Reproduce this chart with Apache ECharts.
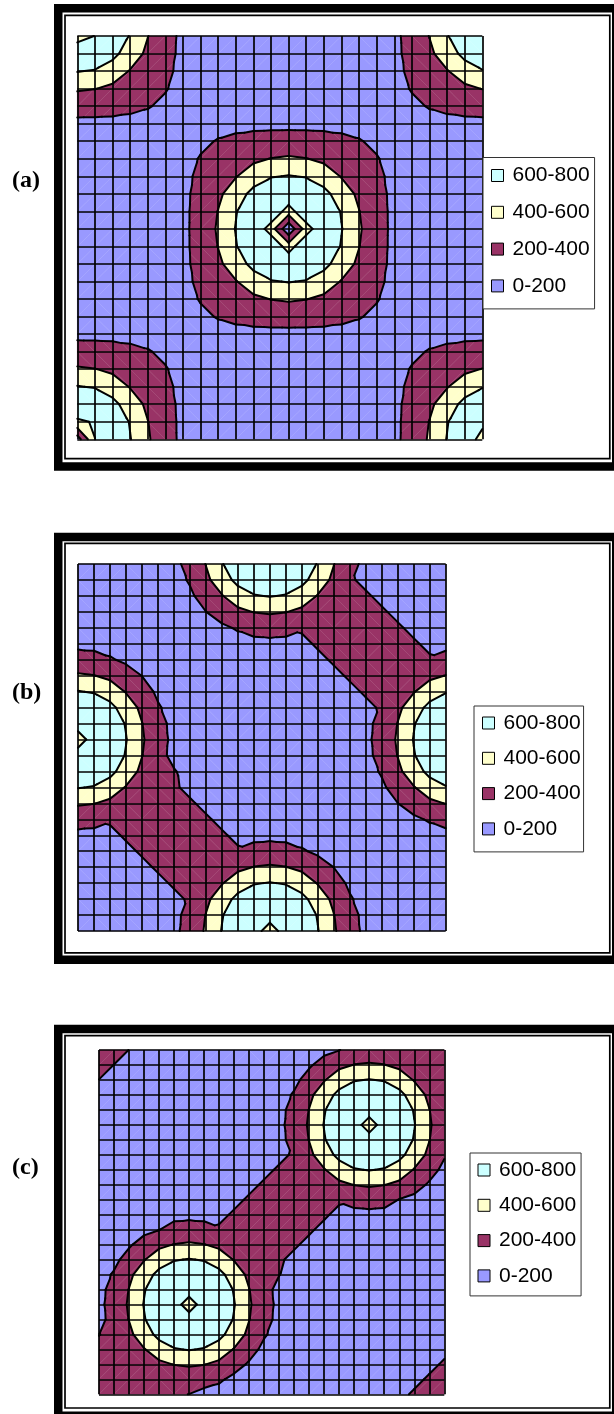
<!DOCTYPE html>
<html>
<head>
<meta charset="utf-8">
<script src="https://cdn.jsdelivr.net/npm/echarts@6.0.0/dist/echarts.min.js"></script>
<style>
  html, body { margin: 0; padding: 0; background: #fff; }
  #chart { width: 614px; height: 1414px; }
</style>
</head>
<body>
<div id="chart"></div>
<script>
// Surface values on a 24 x 24 point lattice, rows listed top to bottom.
const surfaceA = [
  [490,606,785,585,405,285,150,90,66,66,66,66,66,66,66,66,66,90,150,285,405,585,785,650],
  [790,785,660,500,362,275,147,88,66,66,66,66,66,66,66,66,66,88,147,275,362,500,660,785],
  [610,585,500,390,300,250,140,86,66,66,66,66,66,66,66,66,66,86,140,250,300,390,500,585],
  [420,405,362,300,250,215,125,81,66,66,66,66,66,66,66,66,66,81,125,215,250,300,362,405],
  [290,285,275,250,215,155,105,73,81,86,88,90,90,90,88,86,81,73,105,155,215,250,275,285],
  [150,150,147,140,125,105,85,105,125,140,147,150,150,150,147,140,125,105,85,105,125,140,147,150],
  [90,90,88,86,81,73,105,155,215,250,275,285,290,285,275,250,215,155,105,73,81,86,88,90],
  [66,66,66,66,66,81,125,215,250,300,362,405,420,405,362,300,250,215,125,81,66,66,66,66],
  [66,66,66,66,66,86,140,250,300,390,500,585,610,585,500,390,300,250,140,86,66,66,66,66],
  [66,66,66,66,66,88,147,275,362,500,660,785,790,785,660,500,362,275,147,88,66,66,66,66],
  [66,66,66,66,66,90,150,285,405,585,785,800,490,800,785,585,405,285,150,90,66,66,66,66],
  [66,66,66,66,66,90,150,290,420,610,790,490,45,490,790,610,420,290,150,90,66,66,66,66],
  [66,66,66,66,66,90,150,285,405,585,785,800,490,800,785,585,405,285,150,90,66,66,66,66],
  [66,66,66,66,66,88,147,275,362,500,660,785,790,785,660,500,362,275,147,88,66,66,66,66],
  [66,66,66,66,66,86,140,250,300,390,500,585,610,585,500,390,300,250,140,86,66,66,66,66],
  [66,66,66,66,66,81,125,215,250,300,362,405,420,405,362,300,250,215,125,81,66,66,66,66],
  [90,90,88,86,81,73,105,155,215,250,275,285,290,285,275,250,215,155,105,73,81,86,88,90],
  [150,150,147,140,125,105,85,105,125,140,147,150,150,150,147,140,125,105,85,105,125,140,147,150],
  [290,285,275,250,215,155,105,73,81,86,88,90,90,90,88,86,81,73,105,155,215,250,275,285],
  [420,405,362,300,250,215,125,81,66,66,66,66,66,66,66,66,66,81,125,215,250,300,362,405],
  [610,585,500,390,300,250,140,86,66,66,66,66,66,66,66,66,66,86,140,250,300,390,500,585],
  [790,785,660,500,362,275,147,88,66,66,66,66,66,66,66,66,66,88,147,275,362,500,660,785],
  [560,620,785,585,405,285,150,90,66,66,66,66,66,66,66,66,66,90,150,285,405,585,785,680],
  [100,598,790,610,420,290,150,90,66,66,66,66,66,66,66,66,66,90,150,290,420,610,790,490]
];

const surfaceB = [
  [68,68,68,68,72,93,145,270,405,585,745,770,740,770,745,585,405,270,145,100,88,78,72,68],
  [68,68,68,68,68,86,130,220,360,500,660,745,760,745,660,500,360,222,160,125,100,88,78,72],
  [72,68,68,68,68,80,108,165,290,390,500,585,610,585,500,390,315,280,222,160,125,100,88,78],
  [78,72,68,68,68,70,88,125,198,290,360,405,420,405,360,315,330,315,280,222,160,125,100,88],
  [95,93,86,80,70,70,76,93,125,165,220,270,290,270,222,280,315,330,315,280,222,160,125,100],
  [150,145,130,108,88,76,70,76,88,108,130,145,150,145,160,222,280,315,330,315,280,222,160,145],
  [290,270,220,165,125,93,76,70,70,80,86,93,95,100,125,160,222,280,315,330,315,280,222,270],
  [420,405,360,290,198,125,88,70,68,68,68,72,78,88,100,125,160,222,280,315,330,315,360,405],
  [610,585,500,390,290,165,108,80,68,68,68,68,72,78,88,100,125,160,222,280,315,390,500,585],
  [760,745,660,500,360,220,130,86,68,68,68,68,68,72,78,88,100,125,160,222,360,500,660,745],
  [740,770,745,585,405,270,145,93,72,68,68,68,68,68,72,78,88,100,145,270,405,585,745,770],
  [450,740,760,610,420,290,150,95,78,72,68,68,68,68,68,72,78,95,150,290,420,610,760,740],
  [740,770,745,585,405,270,145,100,88,78,72,68,68,68,68,68,72,93,145,270,405,585,745,770],
  [760,745,660,500,360,222,215,125,100,88,78,72,68,68,68,68,68,86,130,220,360,500,660,745],
  [610,585,500,390,315,280,222,160,125,100,88,78,72,68,68,68,68,80,108,165,290,390,500,585],
  [420,405,360,315,330,315,280,222,160,125,100,88,78,72,68,68,68,70,88,125,198,290,360,405],
  [290,270,222,280,315,330,315,280,222,160,125,100,95,93,86,80,70,70,76,93,125,165,220,270],
  [150,145,160,222,280,315,330,315,280,222,160,145,150,145,130,108,88,76,70,76,88,108,130,145],
  [95,100,125,160,222,280,315,330,315,280,222,270,290,270,220,165,125,93,76,70,70,80,86,93],
  [78,88,100,125,160,222,280,315,330,315,360,405,420,405,360,290,198,125,88,70,68,68,68,72],
  [72,78,88,100,125,160,222,280,315,390,500,585,610,585,500,390,290,165,108,80,68,68,68,68],
  [68,72,78,88,100,125,160,222,360,500,660,745,760,745,660,500,360,220,130,86,68,68,68,68],
  [68,68,72,78,88,100,145,270,405,585,745,770,740,770,745,585,405,270,145,93,68,68,68,68],
  [68,68,68,72,78,95,150,290,420,610,760,740,450,740,760,610,420,290,150,95,68,68,68,68]
];

const surfaceC = [
  [315,280,197,160,125,100,95,93,86,80,70,70,76,93,115,150,195,270,290,270,222,280,315,330],
  [280,197,160,125,100,88,78,72,68,68,68,70,88,125,175,280,360,405,420,405,360,315,330,315],
  [197,160,125,100,88,78,72,68,68,68,68,80,108,150,280,390,500,585,610,585,500,390,315,280],
  [160,125,100,88,78,72,68,68,68,68,68,86,130,220,360,500,660,745,760,745,660,500,360,222],
  [145,100,88,78,72,68,68,68,68,68,72,93,145,270,405,585,745,770,740,770,745,585,405,270],
  [150,95,78,72,68,68,68,68,68,72,78,95,150,290,420,610,760,740,450,740,760,610,420,290],
  [145,93,72,68,68,68,68,68,72,78,88,100,145,270,405,585,745,770,740,770,745,585,405,270],
  [130,86,68,68,68,68,68,72,78,88,100,125,160,222,360,500,660,745,760,745,660,500,360,220],
  [108,80,68,68,68,68,72,78,88,100,125,160,222,280,315,390,500,585,610,585,500,390,280,150],
  [88,70,68,68,68,72,78,88,100,125,160,222,280,315,330,315,360,405,420,405,360,280,175,115],
  [68,70,70,80,86,93,95,100,125,160,222,280,315,330,315,280,222,270,290,270,195,150,115,93],
  [70,76,88,108,130,145,150,145,160,222,280,315,330,315,280,222,160,145,150,145,130,108,88,76],
  [76,93,115,150,195,270,290,270,222,280,315,330,315,280,222,160,125,100,95,93,86,80,70,70],
  [88,115,175,280,360,405,420,405,360,315,330,315,280,222,160,125,100,88,78,72,68,68,68,68],
  [108,150,280,390,500,585,610,585,500,390,315,280,222,160,125,100,88,78,72,68,68,68,68,68],
  [130,220,360,500,660,745,760,745,660,500,360,222,205,125,100,88,78,72,68,68,68,68,68,72],
  [145,270,405,585,745,770,740,770,745,585,405,270,145,100,88,78,72,68,68,68,68,68,72,93],
  [150,290,420,610,760,740,450,740,760,610,420,290,150,95,78,72,68,68,68,68,68,72,78,95],
  [145,270,405,585,745,770,740,770,745,585,405,270,145,93,72,68,68,68,68,68,72,78,88,100],
  [198,222,360,500,660,745,760,745,660,500,360,220,130,86,68,68,68,68,68,72,78,88,100,125],
  [222,280,315,390,500,585,610,585,500,390,280,150,108,80,68,68,68,68,72,78,88,100,125,160],
  [280,315,330,315,360,405,420,405,360,280,175,115,88,70,68,68,68,72,78,88,100,125,160,222],
  [315,330,315,280,222,270,290,270,230,150,115,93,76,70,70,80,86,93,95,100,125,160,222,280],
  [330,315,280,222,240,220,198,150,130,108,88,76,70,76,88,108,130,145,150,145,160,222,280,315]
];

// Value bands (legend order) and contour levels.
const bandNames = ['600-800', '400-600', '200-400', '0-200'];
const bandLow   = [600, 400, 200, -Infinity];
const bandHigh  = [Infinity, 600, 400, 200];
const contourLevels = [200, 400, 600];

// Styling
const bandColors = ['#CCFFFF', '#FFFFCC', '#993366', '#9999FF'];

// Page layout of the three framed panels.
const panels = [
  { label: '(a)', values: surfaceA, labelY: 181,
    grid: { left: 77.3, top: 36, width: 405, height: 403.3 },
    legend: { left: 483, top: 157.5, itemGap: 14.8, padding: [7, 5, 12, 8] },
    frame: { top: 4, bottom: 470.7, thinTop: 15.4, thinBottom: 458.6 } },
  { label: '(b)', values: surfaceB, labelY: 693,
    grid: { left: 78, top: 564, width: 367.7, height: 367 },
    legend: { left: 474, top: 706, itemGap: 13.3, padding: [6, 3, 12, 8] },
    frame: { top: 532.8, bottom: 964, thinTop: 543.4, thinBottom: 952.8 } },
  { label: '(c)', values: surfaceC, labelY: 1168,
    grid: { left: 99, top: 1050, width: 345.3, height: 344.3 },
    legend: { left: 470, top: 1153, itemGap: 13.3, padding: [6, 5, 9, 7.5] },
    frame: { top: 1024.8, bottom: 1420, thinTop: 1035.7, thinBottom: 1408 } }
];

const N = 24; // lattice points per side
const cells = [];
for (let r = 0; r < N - 1; r++) {
  for (let c = 0; c < N - 1; c++) cells.push([c, r]);
}

// Each cell is cut into two triangles along the diagonal whose end values are
// closest; values are interpolated linearly inside each triangle.
function cellTriangles(z, c, r) {
  const A = [c, r, z[r][c]], B = [c + 1, r, z[r][c + 1]];
  const C = [c + 1, r + 1, z[r + 1][c + 1]], D = [c, r + 1, z[r + 1][c]];
  if (Math.abs(A[2] - C[2]) < Math.abs(B[2] - D[2])) return [[A, B, C], [A, C, D]];
  return [[A, B, D], [B, C, D]];
}

function clipPoly(poly, t, keepAbove) {
  const out = [];
  for (let i = 0; i < poly.length; i++) {
    const a = poly[i], b = poly[(i + 1) % poly.length];
    const ina = keepAbove ? a[2] >= t : a[2] <= t;
    const inb = keepAbove ? b[2] >= t : b[2] <= t;
    if (ina) out.push(a);
    if (ina !== inb) {
      const f = (t - a[2]) / (b[2] - a[2]);
      out.push([a[0] + f * (b[0] - a[0]), a[1] + f * (b[1] - a[1]), t]);
    }
  }
  return out;
}

function bandRenderer(z, bi) {
  return function (params, api) {
    const c = api.value(0), r = api.value(1);
    const children = [];
    cellTriangles(z, c, r).forEach(tri => {
      let poly = tri;
      if (bandLow[bi] > -Infinity) poly = clipPoly(poly, bandLow[bi], true);
      if (poly.length >= 3 && bandHigh[bi] < Infinity) poly = clipPoly(poly, bandHigh[bi], false);
      if (poly.length >= 3) {
        children.push({
          type: 'polygon',
          shape: { points: poly.map(p => api.coord([p[0], p[1]])) },
          style: { fill: bandColors[bi], stroke: bandColors[bi], lineWidth: 0.35 }
        });
      }
    });
    return { type: 'group', children };
  };
}

function contourRenderer(z) {
  return function (params, api) {
    const c = api.value(0), r = api.value(1);
    const children = [];
    cellTriangles(z, c, r).forEach(tri => {
      contourLevels.forEach(L => {
        const pts = [];
        for (let i = 0; i < 3; i++) {
          const a = tri[i], b = tri[(i + 1) % 3];
          if ((a[2] < L) !== (b[2] < L)) {
            const f = (L - a[2]) / (b[2] - a[2]);
            pts.push(api.coord([a[0] + f * (b[0] - a[0]), a[1] + f * (b[1] - a[1])]));
          }
        }
        if (pts.length === 2) {
          children.push({
            type: 'line',
            shape: { x1: pts[0][0], y1: pts[0][1], x2: pts[1][0], y2: pts[1][1] },
            style: { stroke: '#000', lineWidth: 2, lineCap: 'round' }
          });
        }
      });
    });
    return { type: 'group', children };
  };
}

const axisCommon = {
  type: 'value', min: 0, max: N - 1, interval: 1, z: 2,
  axisLine: { show: false }, axisTick: { show: false }, axisLabel: { show: false },
  splitLine: { show: true, lineStyle: { color: '#000', width: 1.7 } }
};

const grids = [], xAxes = [], yAxes = [], series = [], legends = [], graphics = [];

panels.forEach((p, i) => {
  grids.push(Object.assign({ show: false }, p.grid));
  xAxes.push(Object.assign({ gridIndex: i }, axisCommon));
  yAxes.push(Object.assign({ gridIndex: i, inverse: true }, axisCommon));

  bandNames.forEach((name, bi) => {
    series.push({
      type: 'custom', name, xAxisIndex: i, yAxisIndex: i, z: 1, silent: true,
      itemStyle: { color: bandColors[bi] },
      encode: { x: 0, y: 1 }, data: cells, renderItem: bandRenderer(p.values, bi)
    });
  });
  series.push({
    type: 'custom', xAxisIndex: i, yAxisIndex: i, z: 3, silent: true,
    encode: { x: 0, y: 1 }, data: cells, renderItem: contourRenderer(p.values)
  });

  legends.push({
    data: bandNames, orient: 'vertical', left: p.legend.left, top: p.legend.top,
    itemGap: p.legend.itemGap, padding: p.legend.padding, selectedMode: false,
    icon: 'rect', itemWidth: 12, itemHeight: 12,
    itemStyle: { borderColor: '#000', borderWidth: 1 },
    backgroundColor: '#fff', borderColor: '#333', borderWidth: 1,
    textStyle: { fontFamily: '"Liberation Sans", Arial, sans-serif', fontSize: 21, lineHeight: 22, color: '#000', padding: [0, 0, 0, 4] }
  });

  const f = p.frame;
  graphics.push({
    type: 'rect', silent: true,
    shape: { x: 58.25, y: f.top + 4.25, width: 558, height: f.bottom - f.top - 8.5 },
    style: { fill: 'none', stroke: '#000', lineWidth: 8.5 }
  });
  graphics.push({
    type: 'rect', silent: true,
    shape: { x: 65, y: f.thinTop, width: 609.8 - 65, height: f.thinBottom - f.thinTop },
    style: { fill: 'none', stroke: '#000', lineWidth: 1.7 }
  });
  graphics.push({
    type: 'text', silent: true, x: 12, y: p.labelY,
    style: { text: p.label, font: 'bold 24px "Liberation Serif", "Times New Roman", serif', fill: '#000', verticalAlign: 'middle' }
  });
});

const chart = echarts.init(document.getElementById('chart'), null, { renderer: 'canvas' });
chart.setOption({
  animation: false,
  backgroundColor: '#fff',
  grid: grids, xAxis: xAxes, yAxis: yAxes,
  legend: legends, series, graphic: graphics
});
</script>
</body>
</html>
